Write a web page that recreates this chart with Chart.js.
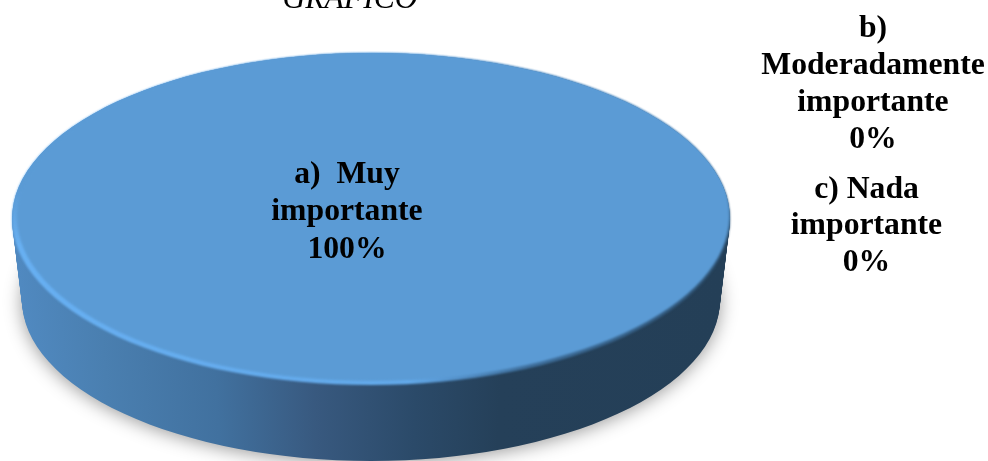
<!DOCTYPE html>
<html>
<head>
<meta charset="utf-8">
<title>GRÁFICO</title>
<script src="https://cdn.jsdelivr.net/npm/chart.js@4/dist/chart.umd.min.js"></script>
<style>
  html, body { margin: 0; padding: 0; background: #fff; overflow: hidden; }
  canvas { display: block; }
</style>
</head>
<body>
<canvas id="myChart" width="988" height="461"></canvas>
<script>
const titleText = 'GRÁFICO'
const categories = [['a)  Muy', 'importante'], ['b)', 'Moderadamente', 'importante'], ['c) Nada', 'importante']]
const values = [100, 0, 0]

// where the labels sit: x of the centre, y of the first line, line step
const labelSpots = [[347, 174.5, 37.5], [873, 28.5, 37], [866.5, 189.5, 36.5]]

//map the round arc onto an ellipse on the page
const squash = (ctx, arc, cx, cy, rx, ry) => {
  ctx.translate(cx, cy)
  ctx.scale(rx / arc.outerRadius, ry / arc.outerRadius)
  ctx.translate(-arc.x, -arc.y)
}

const pie3d = {
  id: 'pie3d',
  beforeDatasetDraw(chart, args) {
    const ctx = chart.ctx
    const arc = args.meta.data[0]
    const plain = arc.options
    const r = arc.outerRadius
    const localX = (x) => arc.x + (x - 371) * r / 359
    const localY = (y) => arc.y + (y - 219) * r / 166

    //side wall, stacked from the bottom rim up to the top face
    const side = ctx.createLinearGradient(localX(15), 0, localX(730), 0)
    side.addColorStop(0, '#5089c0')
    side.addColorStop(0.12, '#4a7fb0')
    side.addColorStop(0.28, '#41719f')
    side.addColorStop(0.42, '#38597f')
    side.addColorStop(0.56, '#2b4a69')
    side.addColorStop(0.68, '#254059')
    side.addColorStop(1, '#243f57')
    arc.options = { ...plain, backgroundColor: side }
    for (let i = 0; i <= 40; i++) {
      const t = i / 40
      ctx.save()
      if (i === 0) {
        ctx.shadowColor = 'rgba(0,0,0,0.4)'
        ctx.shadowBlur = 18
        ctx.shadowOffsetY = 2
      }
      squash(ctx, arc, 371, 300 - 81 * t, 349 + 10 * t, 161 + 5 * t)
      arc.draw(ctx)
      ctx.restore()
    }

    //bright bevel on the left, fading into the dark wall on the right
    const rim = ctx.createLinearGradient(localX(12), 0, localX(730), 0)
    rim.addColorStop(0, '#68b0f2')
    rim.addColorStop(0.55, '#64abec')
    rim.addColorStop(0.72, '#3f6f9c')
    rim.addColorStop(1, '#2f5373')
    arc.options = { ...plain, backgroundColor: rim }
    ctx.save()
    ctx.filter = 'blur(1px)'
    squash(ctx, arc, 371, 219, 359, 166)
    arc.draw(ctx)
    ctx.restore()

    //the bevel only shows on the lower half, so cover its upper part
    const cap = ctx.createLinearGradient(0, localY(190), 0, localY(245))
    cap.addColorStop(0, 'rgba(91,155,213,1)')
    cap.addColorStop(1, 'rgba(91,155,213,0)')
    arc.options = { ...plain, backgroundColor: cap }
    ctx.save()
    ctx.filter = 'blur(0.6px)'
    squash(ctx, arc, 371, 219, 359, 166)
    arc.draw(ctx)
    ctx.restore()
    arc.options = plain

    //the library draws the top face itself, under this transform
    ctx.save()
    ctx.filter = 'blur(0.8px)'
    squash(ctx, arc, 373, 217, 356, 164)
  },
  afterDatasetDraw(chart) {
    chart.ctx.restore()
  },
  afterDraw(chart) {
    const ctx = chart.ctx
    ctx.save()
    ctx.fillStyle = '#000'
    ctx.textAlign = 'center'
    ctx.textBaseline = 'middle'
    ctx.font = 'bold 31.7px "Liberation Serif"'
    chart.data.labels.forEach((label, i) => {
      const lines = [...label, chart.data.datasets[0].data[i] + '%']
      const [x, y, step] = labelSpots[i]
      lines.forEach((line, j) => ctx.fillText(line, x, y + j * step))
    })
    ctx.textBaseline = 'alphabetic'
    ctx.font = 'italic 31.6px "Liberation Serif"'
    ctx.fillText(titleText, 350, 8)
    ctx.restore()
  }
}

new Chart('myChart', {
  type: 'pie',
  data: {
    labels: categories,
    datasets: [{
      data: values,
      backgroundColor: ['#5b9bd5', '#ed7d31', '#a5a5a5'],
      borderWidth: 0,
      clip: false
    }]
  },
  options: {
    responsive: false,
    animation: false,
    plugins: {
      legend: { display: false },
      tooltip: { enabled: false }
    }
  },
  plugins: [pie3d]
})
</script>
</body>
</html>
